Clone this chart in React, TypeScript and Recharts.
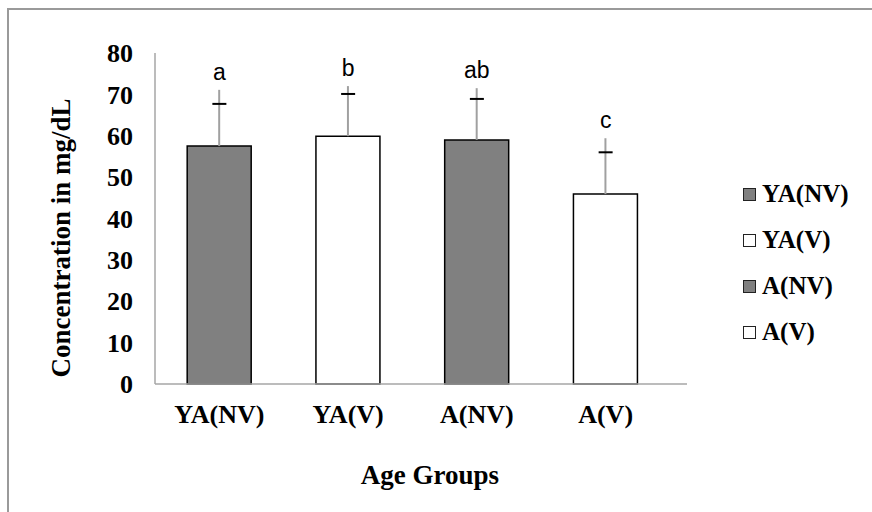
import { ComposedChart, Bar, Cell, ErrorBar, Line, XAxis, YAxis } from 'recharts'

const grupos = ['YA(NV)', 'YA(V)', 'A(NV)', 'A(V)']
const medias = [57.5, 59.9, 59.0, 45.9]
const topoErro = [71.1, 72.0, 71.5, 59.4]
const marcas = [67.7, 70.1, 68.9, 56.0]
const letras = ['a', 'b', 'ab', 'c']
const cores = ['#808080', '#ffffff', '#808080', '#ffffff']
const ticksY = [0, 10, 20, 30, 40, 50, 60, 70, 80]

const dados = grupos.map((nome, i) => ({
  nome,
  media: medias[i],
  erro: [0, topoErro[i] - medias[i]],
  marca: marcas[i],
  topo: topoErro[i],
  letra: letras[i],
}))

const serif = '"Liberation Serif", "Times New Roman", serif'
const eixo = { stroke: '#a6a6a6', strokeWidth: 1.5 }

// traço horizontal preto sobre a barra de erro
function Marca({ cx, cy }: any) {
  if (cx == null || cy == null) return null
  return <line x1={cx - 7} x2={cx + 7} y1={cy} y2={cy} stroke="#000" strokeWidth={2} />
}

// letra de significância acima do erro
function Letra({ cx, cy, payload }: any) {
  if (cx == null || cy == null) return null
  return (
    <text x={cx} y={cy - 10} textAnchor="middle" fontFamily='"Liberation Sans", Arial, sans-serif' fontSize={23} fill="#000">
      {payload.letra}
    </text>
  )
}

export default function App() {
  return (
    <div style={{ position: 'absolute', left: 0, top: 0, width: 872, height: 512, overflow: 'hidden', background: '#fff' }}>
      <div style={{ position: 'absolute', left: 7, top: 8, width: 1000, height: 1000, borderLeft: '2px solid #9a9a9a', borderTop: '2px solid #9a9a9a' }} />
      <div style={{ position: 'absolute', left: 0, top: 0 }}>
        <ComposedChart width={872} height={512} data={dados} margin={{ top: 53, right: 185, bottom: 68, left: 85 }} barCategoryGap="25%">
          <XAxis
            dataKey="nome"
            height={60}
            axisLine={eixo}
            tickLine={false}
            tickMargin={15}
            padding={{ left: 0, right: 17 }}
            tick={{ fill: '#000', fontFamily: serif, fontSize: 26, fontWeight: 'bold' }}
            label={{
              content: () => (
                <text x={430} y={475} textAnchor="middle" dominantBaseline="central" fontFamily={serif} fontSize={27} fontWeight="bold" fill="#000">
                  Age Groups
                </text>
              ),
            }}
          />
          <YAxis
            width={70}
            domain={[0, 80]}
            ticks={ticksY}
            axisLine={eixo}
            tickLine={false}
            tickMargin={16}
            tick={{ fill: '#000', fontFamily: serif, fontSize: 26, fontWeight: 'bold' }}
            label={{
              content: () => (
                <text x={61} y={238} transform="rotate(-90 61 238)" textAnchor="middle" dominantBaseline="central" fontFamily={serif} fontSize={27} fontWeight="bold" fill="#000">
                  Concentration in mg/dL
                </text>
              ),
            }}
          />
          <Bar dataKey="media" stroke="#000" strokeWidth={1.5} isAnimationActive={false}>
            {dados.map((d, i) => (
              <Cell key={d.nome} fill={cores[i]} />
            ))}
            <ErrorBar dataKey="erro" width={0} stroke="#a0a0a0" strokeWidth={2} direction="y" />
          </Bar>
          <Line dataKey="marca" stroke="none" dot={<Marca />} activeDot={false} isAnimationActive={false} />
          <Line dataKey="topo" stroke="none" dot={<Letra />} activeDot={false} isAnimationActive={false} />
        </ComposedChart>
      </div>
      <div style={{ position: 'absolute', left: 743, top: 171, fontFamily: serif, fontWeight: 'bold', fontSize: 25, color: '#000' }}>
        {grupos.map((g, i) => (
          <div key={g} style={{ height: 46, display: 'flex', alignItems: 'center' }}>
            <span style={{ width: 11, height: 11, border: '1.5px solid #222', background: cores[i], marginRight: 6, display: 'inline-block' }} />
            <span>{g}</span>
          </div>
        ))}
      </div>
    </div>
  )
}
